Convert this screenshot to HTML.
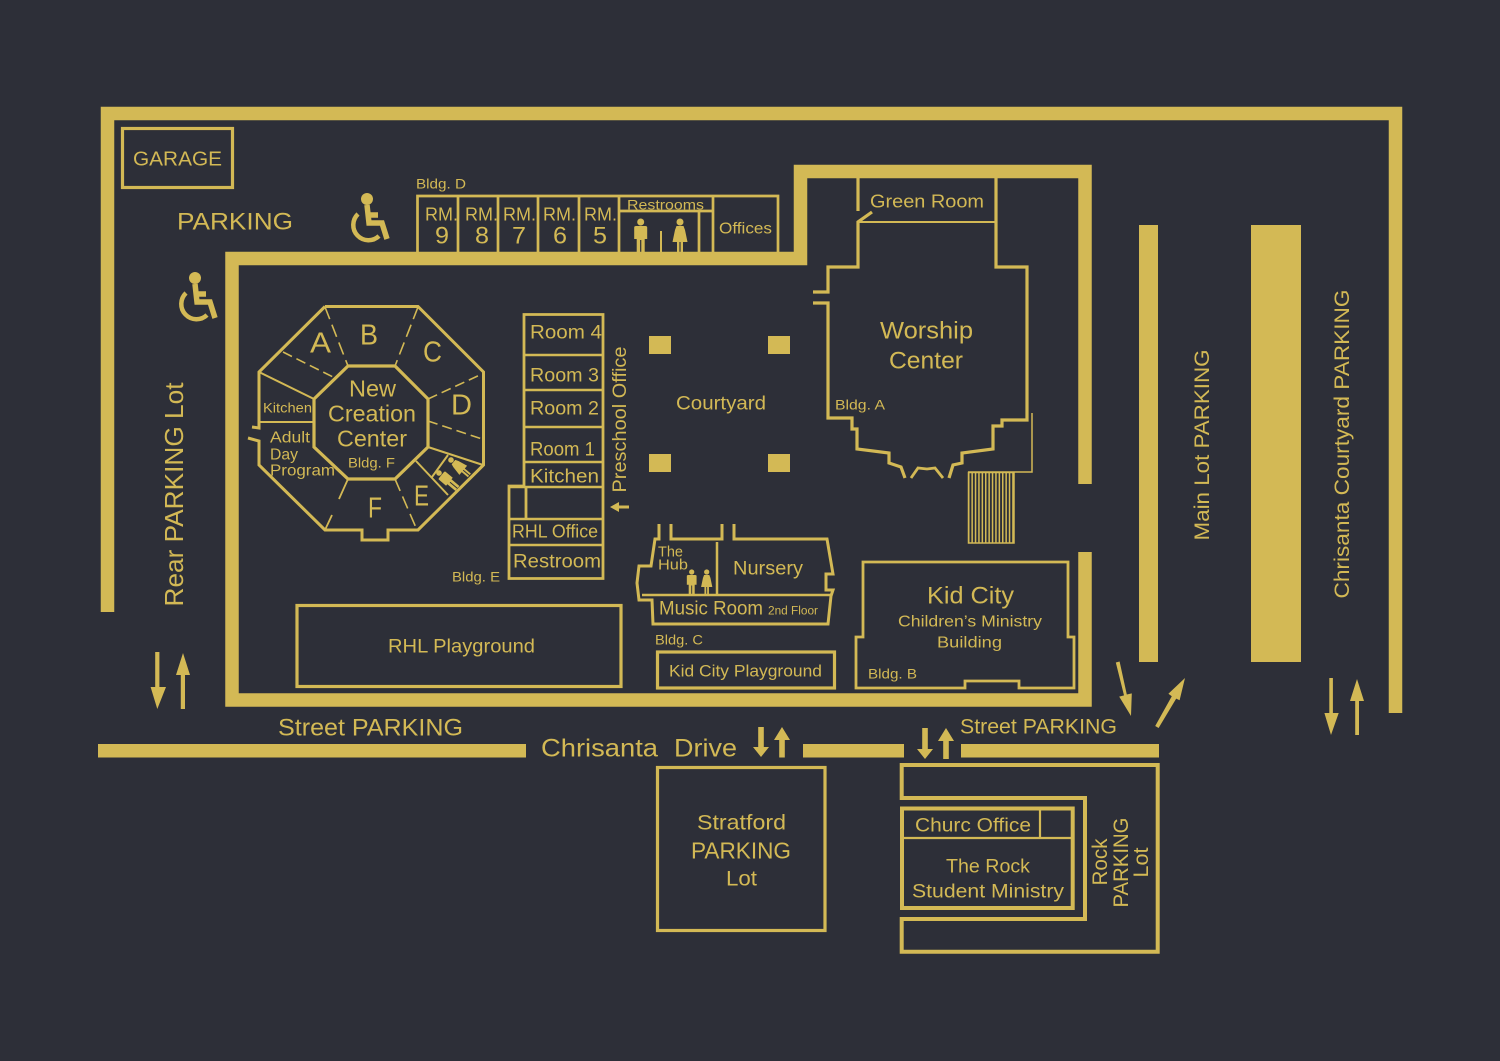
<!DOCTYPE html>
<html><head><meta charset="utf-8"><title>Campus map</title>
<style>
html,body{margin:0;padding:0;background:#2d2f38;width:1500px;height:1061px;overflow:hidden}
svg{display:block}
text{font-family:"Liberation Sans",sans-serif;fill:#d3b955;stroke:none}
</style></head><body>
<svg width="1500" height="1061" viewBox="0 0 1500 1061" xmlns="http://www.w3.org/2000/svg">
<defs>
<g id="man"><circle cx="0" cy="0" r="3.5" fill="#d3b955"/><path d="M-6.5,5.5 Q-6.5,4 -4.5,4 H4.5 Q6.5,4 6.5,5.5 V17 H4 V30 H.6 V18 H-.6 V30 H-4 V17 H-6.5Z" fill="#d3b955"/></g>
<g id="woman"><circle cx="0" cy="0" r="3.5" fill="#d3b955"/><path d="M-3.5,4 H3.5 L5,8 L7.5,20 H3 V30 H.6 V20 H-.6 V30 H-3 V20 H-7.5 L-5,8Z" fill="#d3b955"/></g>
<g id="wc" fill="none" stroke="#d3b955">
<circle cx="367" cy="199" r="6" fill="#d3b955" stroke="none"/>
<path d="M367,205 L369,223 H382 L387,239 M369,215 H378" stroke-width="5.5"/>
<path d="M358,214 A15,15 0 1 0 379,236" stroke-width="4.5"/>
</g>
</defs>
<rect width="1500" height="1061" fill="#2d2f38"/>

<g fill="none" stroke="#d3b955">
<!-- main walls -->
<path d="M107.5,612 V113.5 H1395.5 V713" stroke-width="13.5"/>
<path d="M1085,484 V171.5 H800.5 V258.5 H232 V700 H1085 V552" stroke-width="13.5"/>
<g stroke-width="3.2">
<rect x="122.5" y="128.5" width="110" height="59"/>
<!-- Bldg D -->
<path d="M417.5,252 V196 H778 V252 M458,196 V252 M498,196 V252 M538,196 V252 M579,196 V252 M619,196 V252 M699,211 V252 M713,196 V252 M619,211 H713" stroke-width="2.7"/>
<!-- octagon -->
<path d="M325,306.5 H418 L483.5,372 V465 L418,530 H388 V540 H362 V530 H325 L259,465 V441 L248,438 M252,427 L259,428 V372 L325,306.5" stroke-width="3"/>
<path d="M348,366 H395 L428,399 V447 L395,479 H348 L314,447 V399 Z"/>
<!-- worship -->
<path d="M858,178 V211"/>
<path d="M872,212 L858,222 V267 H828 V292 H813 M813,303 H828 V418 H852 V429 H857 V449 L889,453 V463 L901,467 L905,478"/>
<path d="M996,178 V267 H1027 V420 H1002 V426 H993 V449 L962,453 V463 L953,465 L949,478"/>
<path d="M911,478 L918,468 L927,469 L935,468 L943,478" stroke-width="2.8"/>
<!-- rooms -->
<path d="M524,486 V314.5 H603 V578.5 H509 V486 Z M526,487 V519" stroke-width="2.8"/>
<path d="M524,355 H603 M524,390 H603 M524,427 H603 M524,462 H603 M509,487 H603 M509,519 H603 M509,545 H603" stroke-width="2.5"/>
<!-- Bldg C -->
<path d="M659,524 V539 H655 L651,566 H639 L637,583 L639,600 H652 L653,624 H828 L831,596 L833,590 H826 V574 H833 L827,539 H734 V524 M671,524 V539 H722 V524" stroke-width="3"/>
<path d="M642,595 H832 M717,542 V595" stroke-width="2.5"/>
<!-- playgrounds -->
<rect x="657.5" y="652" width="177" height="36"/>
<rect x="297" y="605.5" width="324" height="81"/>
<!-- Kid City -->
<path d="M863,562 H1068 V637 H1074 V688 H1019 V681 H965 V688 H856 V637 H863 Z" stroke-width="2.8"/>
<!-- Stratford -->
<rect x="657.5" y="767.5" width="167.5" height="163"/>
<!-- Rock -->
<path d="M901.7,798 V765 H1157.7 V951.7 H901.7 V919 H1085 V798 Z" stroke-width="4"/>
<rect x="902" y="808.5" width="170.7" height="99.5" stroke-width="4"/>
</g>
<path d="M902,838 H1072 M1040,808 V838" stroke-width="2.2"/>
<path d="M858,222 H996" stroke-width="2"/>
<path d="M1032,413 V472 H968" stroke-width="1.5"/>
<!-- octagon interior -->
<path d="M259,372 L314,399 M259,422 H314 M428,447 L483,465 M416,461 L448,495 M448,455 L432,477" stroke-width="2"/>
<path d="M325,307 L348,366 M418,307 L395,366 M395,479 L417,530" stroke-width="1.6" stroke-dasharray="13 6"/>
<path d="M283,352 L335,378 M428,399 L482,374 M428,421 L482,439" stroke-width="1.6" stroke-dasharray="10 5"/>
<path d="M348,479 L339,499 M332,515 L325,530" stroke-width="1.8"/>
<path d="M661,231 V252" stroke-width="2"/>
<!-- stairs -->
<rect x="968.5" y="472.5" width="45.5" height="70.5" stroke-width="1.5"/>
<line x1="968" y1="507.5" x2="1014" y2="507.5" stroke-width="70" stroke-dasharray="1.5 1.9"/>
</g>

<g fill="#d3b955">
<rect x="1139" y="225" width="19" height="437"/>
<rect x="1251" y="225" width="50" height="437"/>
<rect x="98" y="744" width="428" height="13.5"/>
<rect x="803" y="744" width="101" height="13.5"/>
<rect x="961" y="744" width="198" height="13.5"/>
<rect x="649" y="336" width="22" height="18"/>
<rect x="768" y="336" width="22" height="18"/>
<rect x="649" y="454" width="22" height="18"/>
<rect x="768" y="454" width="22" height="18"/>
<!-- arrows -->
<path d="M155.2,652 h4.2 v35 h6.6 L157.3,709 L150.6,687 h4.6Z"/>
<path d="M183,653 L190,675 h-5 v34 h-4.2 v-34 h-4.8Z"/>
<path d="M758.2,727 h5.6 v20 H769 L761,757 L753,747 h5.2Z"/>
<path d="M782,727 L790,740 h-5.2 v17.5 h-5.6 V740 H774Z"/>
<path d="M922.2,728 h5.6 v21 H933 L925,759 L917,749 h5.2Z"/>
<path d="M946,728 L954,741 h-5.2 v18 h-5.6 V741 H938Z"/>
<path d="M1329.3,678 h3.6 v35 h5.8 L1331,735 L1324.4,713 h4.9Z"/>
<path d="M1357,679 L1364,701 h-5 v34 h-3.8 v-34 h-5.2Z"/>
<path d="M1115.8,662.5 l3.8,-1 l7.2,33 l5,-1.1 L1131,716 L1119.2,696.6 l4.8,-1.2Z"/>
<path d="M1155.2,726 l3.4,2 l17.6,-29.4 l3.4,1.6 L1185,678 L1168.4,693.8 l3.4,2.4Z"/>
<path d="M610,507 L619,502 v3.5 h10 v3 h-10 v3.5Z"/>
</g>
<use href="#wc"/>
<use href="#wc" transform="translate(-172,79)"/>
<use href="#man" transform="translate(640.7,222)"/>
<use href="#woman" transform="translate(680,222)"/>
<use href="#man" transform="translate(691.7,572) scale(.75)"/>
<use href="#woman" transform="translate(706.7,572) scale(.75)"/>
<use href="#woman" transform="translate(451,460) rotate(-50) scale(.8)"/>
<use href="#man" transform="translate(439,473) rotate(-50) scale(.8)"/>

<g transform="translate(0,.5)">
<text x="133" y="165" font-size="20" textLength="89" lengthAdjust="spacingAndGlyphs">GARAGE</text>
<text x="177" y="229" font-size="24" textLength="116" lengthAdjust="spacingAndGlyphs">PARKING</text>
<text x="416" y="188" font-size="13.5" textLength="50" lengthAdjust="spacingAndGlyphs">Bldg. D</text>
<text x="425" y="220" font-size="18" textLength="33" lengthAdjust="spacingAndGlyphs">RM.</text>
<text x="465" y="220" font-size="18" textLength="33" lengthAdjust="spacingAndGlyphs">RM.</text>
<text x="503" y="220" font-size="18" textLength="33" lengthAdjust="spacingAndGlyphs">RM.</text>
<text x="543" y="220" font-size="18" textLength="33" lengthAdjust="spacingAndGlyphs">RM.</text>
<text x="584" y="220" font-size="18" textLength="33" lengthAdjust="spacingAndGlyphs">RM.</text>
<text x="435" y="243" font-size="24" textLength="14" lengthAdjust="spacingAndGlyphs">9</text>
<text x="475" y="243" font-size="24" textLength="14" lengthAdjust="spacingAndGlyphs">8</text>
<text x="512" y="243" font-size="24" textLength="14" lengthAdjust="spacingAndGlyphs">7</text>
<text x="553" y="243" font-size="24" textLength="14" lengthAdjust="spacingAndGlyphs">6</text>
<text x="593" y="243" font-size="24" textLength="14" lengthAdjust="spacingAndGlyphs">5</text>
<text x="627" y="209" font-size="14" textLength="77" lengthAdjust="spacingAndGlyphs">Restrooms</text>
<text x="719" y="233" font-size="15.5" textLength="53" lengthAdjust="spacingAndGlyphs">Offices</text>
<text x="870" y="207" font-size="18" textLength="114" lengthAdjust="spacingAndGlyphs">Green Room</text>
<text x="880" y="338" font-size="24" textLength="93" lengthAdjust="spacingAndGlyphs">Worship</text>
<text x="889" y="368" font-size="24" textLength="74" lengthAdjust="spacingAndGlyphs">Center</text>
<text x="835" y="409" font-size="14" textLength="50" lengthAdjust="spacingAndGlyphs">Bldg. A</text>
<text x="676" y="409" font-size="19" textLength="90" lengthAdjust="spacingAndGlyphs">Courtyard</text>
<text transform="translate(626,492) rotate(-90)" font-size="19" textLength="146" lengthAdjust="spacingAndGlyphs">Preschool Office</text>
<text x="530" y="338" font-size="19" textLength="72" lengthAdjust="spacingAndGlyphs">Room 4</text>
<text x="530" y="381" font-size="19" textLength="69" lengthAdjust="spacingAndGlyphs">Room 3</text>
<text x="530" y="414" font-size="19" textLength="69" lengthAdjust="spacingAndGlyphs">Room 2</text>
<text x="530" y="455" font-size="19" textLength="65" lengthAdjust="spacingAndGlyphs">Room 1</text>
<text x="530" y="482" font-size="19" textLength="69" lengthAdjust="spacingAndGlyphs">Kitchen</text>
<text x="512" y="537" font-size="18" textLength="86" lengthAdjust="spacingAndGlyphs">RHL Office</text>
<text x="513" y="567" font-size="19" textLength="88" lengthAdjust="spacingAndGlyphs">Restroom</text>
<text x="452" y="581" font-size="13.5" textLength="48" lengthAdjust="spacingAndGlyphs">Bldg. E</text>

<text x="310" y="352" font-size="29" textLength="21" lengthAdjust="spacingAndGlyphs">A</text>
<text x="360" y="344" font-size="29" textLength="18" lengthAdjust="spacingAndGlyphs">B</text>
<text x="423" y="361" font-size="29" textLength="19" lengthAdjust="spacingAndGlyphs">C</text>
<text x="451" y="414" font-size="29" textLength="21" lengthAdjust="spacingAndGlyphs">D</text>
<text x="414" y="505" font-size="29" textLength="15" lengthAdjust="spacingAndGlyphs">E</text>
<text x="368" y="517" font-size="29" textLength="14" lengthAdjust="spacingAndGlyphs">F</text>
<text x="349" y="396" font-size="23" textLength="47" lengthAdjust="spacingAndGlyphs">New</text>
<text x="328" y="421" font-size="23" textLength="88" lengthAdjust="spacingAndGlyphs">Creation</text>
<text x="337" y="446" font-size="23" textLength="70" lengthAdjust="spacingAndGlyphs">Center</text>
<text x="348" y="467" font-size="13.5" textLength="47" lengthAdjust="spacingAndGlyphs">Bldg. F</text>
<text x="263" y="412" font-size="13.5" textLength="49" lengthAdjust="spacingAndGlyphs">Kitchen</text>
<text x="270" y="442" font-size="16" textLength="40" lengthAdjust="spacingAndGlyphs">Adult</text>
<text x="270" y="459" font-size="16" textLength="28" lengthAdjust="spacingAndGlyphs">Day</text>
<text x="270" y="475" font-size="16" textLength="65" lengthAdjust="spacingAndGlyphs">Program</text>

<text x="658" y="556" font-size="15" textLength="25" lengthAdjust="spacingAndGlyphs">The</text>
<text x="658" y="569" font-size="15" textLength="30" lengthAdjust="spacingAndGlyphs">Hub</text>
<text x="733" y="574" font-size="19" textLength="70" lengthAdjust="spacingAndGlyphs">Nursery</text>
<text x="659" y="614" font-size="19" textLength="104" lengthAdjust="spacingAndGlyphs">Music Room</text>
<text x="768" y="614" font-size="11.5" textLength="50" lengthAdjust="spacingAndGlyphs">2nd Floor</text>
<text x="655" y="644" font-size="13.5" textLength="48" lengthAdjust="spacingAndGlyphs">Bldg. C</text>
<text x="669" y="676" font-size="17" textLength="153" lengthAdjust="spacingAndGlyphs">Kid City Playground</text>
<text x="388" y="652" font-size="19" textLength="147" lengthAdjust="spacingAndGlyphs">RHL Playground</text>

<text x="927" y="603" font-size="24" textLength="87" lengthAdjust="spacingAndGlyphs">Kid City</text>
<text x="898" y="626" font-size="16" textLength="144" lengthAdjust="spacingAndGlyphs">Children’s Ministry</text>
<text x="937" y="647" font-size="16" textLength="65" lengthAdjust="spacingAndGlyphs">Building</text>
<text x="868" y="678" font-size="14" textLength="49" lengthAdjust="spacingAndGlyphs">Bldg. B</text>

<text x="960" y="733" font-size="21" textLength="157" lengthAdjust="spacingAndGlyphs">Street PARKING</text>
<text x="278" y="735" font-size="24" textLength="185" lengthAdjust="spacingAndGlyphs">Street PARKING</text>
<text x="541" y="756" font-size="25" textLength="117" lengthAdjust="spacingAndGlyphs">Chrisanta</text>
<text x="674" y="756" font-size="25" textLength="63" lengthAdjust="spacingAndGlyphs">Drive</text>

<text x="697" y="829" font-size="21" textLength="89" lengthAdjust="spacingAndGlyphs">Stratford</text>
<text x="691" y="858" font-size="23" textLength="100" lengthAdjust="spacingAndGlyphs">PARKING</text>
<text x="726" y="885" font-size="21" textLength="31" lengthAdjust="spacingAndGlyphs">Lot</text>

<text x="915" y="831" font-size="19" textLength="116" lengthAdjust="spacingAndGlyphs">Churc Office</text>
<text x="946" y="872" font-size="19" textLength="84" lengthAdjust="spacingAndGlyphs">The Rock</text>
<text x="912" y="897" font-size="19" textLength="152" lengthAdjust="spacingAndGlyphs">Student Ministry</text>

<text transform="translate(1107,885) rotate(-90)" font-size="21" textLength="47" lengthAdjust="spacingAndGlyphs">Rock</text>
<text transform="translate(1128,907) rotate(-90)" font-size="21" textLength="90" lengthAdjust="spacingAndGlyphs">PARKING</text>
<text transform="translate(1148,877) rotate(-90)" font-size="21" textLength="30" lengthAdjust="spacingAndGlyphs">Lot</text>
<text transform="translate(183,606) rotate(-90)" font-size="26" textLength="224" lengthAdjust="spacingAndGlyphs">Rear PARKING Lot</text>
<text transform="translate(1209,540) rotate(-90)" font-size="21" textLength="191" lengthAdjust="spacingAndGlyphs">Main Lot PARKING</text>
<text transform="translate(1349,598) rotate(-90)" font-size="21" textLength="309" lengthAdjust="spacingAndGlyphs">Chrisanta Courtyard PARKING</text>
</g>
</svg>
</body></html>
